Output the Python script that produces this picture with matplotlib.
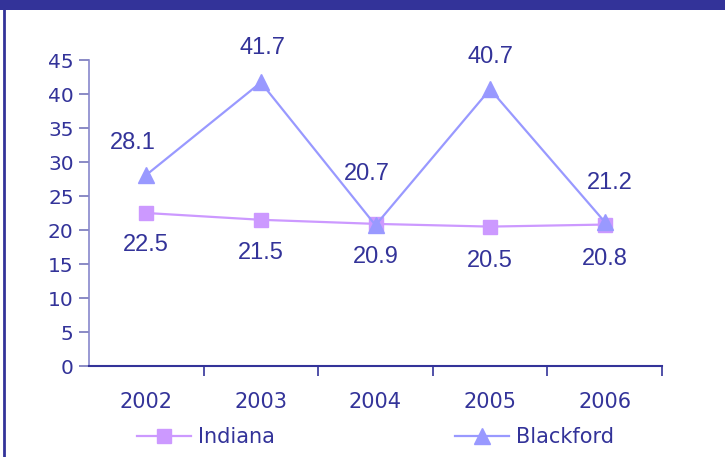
import matplotlib.pyplot as plt
from matplotlib.patches import Rectangle
from matplotlib.lines import Line2D

years = ['2002', '2003', '2004', '2005', '2006']
indiana = [22.5, 21.5, 20.9, 20.5, 20.8]
blackford = [28.1, 41.7, 20.7, 40.7, 21.2]

navy = '#333399'
lilac = '#CC99FF'
periwinkle = '#9999FF'

# label offsets in points (dx, dy)
ind_off = [(0, -23), (0, -24), (0, -24), (0, -25), (0, -25)]
bf_off = [(-10, 23), (1, 25), (-6, 37), (0, 23), (4, 28)]

fig = plt.figure(figsize=(7.25, 4.57), dpi=100)

# dark title band at the top and border on the left
fig.patches.append(Rectangle((0, 1 - 10 / 457), 1, 10 / 457, transform=fig.transFigure,
                             facecolor=navy, edgecolor='none'))
fig.lines.append(Line2D([4 / 725, 4 / 725], [0, 1 - 10 / 457], transform=fig.transFigure,
                        color=navy, lw=2))

ax = fig.add_axes([89 / 725, 1 - 366 / 457, (662 - 89) / 725, (366 - 60) / 457])
x = list(range(len(years)))

ax.plot(x, indiana, color=lilac, lw=1.6, marker='s', markersize=10,
        markerfacecolor=lilac, markeredgecolor=lilac, label='Indiana', zorder=3)
ax.plot(x, blackford, color=periwinkle, lw=1.6, marker='^', markersize=11,
        markerfacecolor=periwinkle, markeredgecolor=periwinkle, label='Blackford', zorder=4)

for i in x:
    ax.annotate(f'{indiana[i]:.1f}', (i, indiana[i]), xytext=ind_off[i],
                textcoords='offset points', ha='center', va='center',
                fontsize=17, color=navy, family='Liberation Sans')
    ax.annotate(f'{blackford[i]:.1f}', (i, blackford[i]), xytext=bf_off[i],
                textcoords='offset points', ha='center', va='center',
                fontsize=17, color=navy, family='Liberation Sans')

ax.set_xlim(-0.5, len(years) - 0.5)
ax.set_ylim(0, 45)
ax.set_yticks(range(0, 46, 5))
ax.set_xticks([i + 0.5 for i in x])
ax.set_xticklabels([])
ax.set_xticks(x, minor=True)
ax.set_xticklabels(years, minor=True)
ax.tick_params(axis='x', which='minor', length=0, pad=19, labelsize=15, labelcolor=navy)
ax.tick_params(axis='x', which='major', length=7, width=1.2, color=navy)
ax.tick_params(axis='y', length=7, width=1.2, color='#7777BB', labelsize=14.5,
               labelcolor=navy, pad=4)

for s in ['top', 'right']:
    ax.spines[s].set_visible(False)
ax.spines['left'].set_color('#8888CC')
ax.spines['left'].set_linewidth(1.2)
ax.spines['bottom'].set_color(navy)
ax.spines['bottom'].set_linewidth(1.5)

leg = ax.legend(loc='center', bbox_to_anchor=(0.5, -0.233), ncol=2, frameon=False,
                fontsize=15, handlelength=2.6, handletextpad=0.35, columnspacing=8.6)
for t in leg.get_texts():
    t.set_color(navy)

fig.savefig('out.png', dpi=100)
